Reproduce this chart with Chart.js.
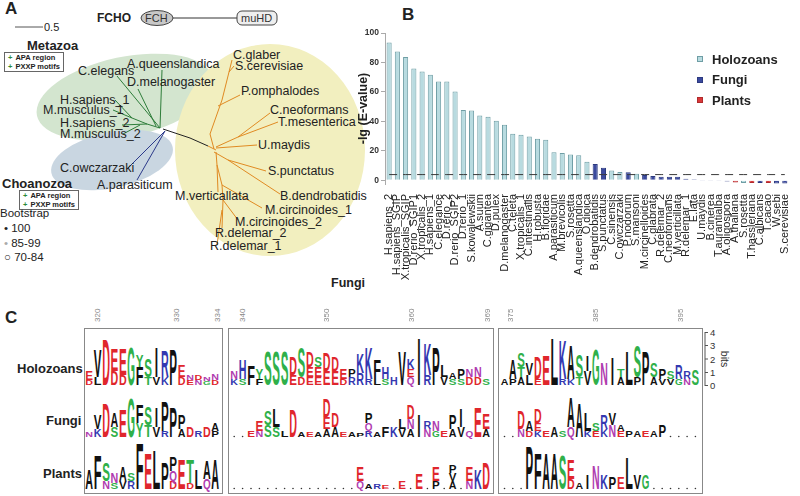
<!DOCTYPE html>
<html><head><meta charset="utf-8">
<script src="https://cdn.jsdelivr.net/npm/chart.js@4.4.0/dist/chart.umd.min.js"></script>
<style>
body{margin:0;width:800px;height:496px;background:#fff;font-family:"Liberation Sans",Arial,sans-serif;position:relative;overflow:hidden;color:#222}
.t{position:absolute;white-space:nowrap;font-size:12.5px;line-height:14px}
.b{font-weight:bold}
.letter{position:absolute;font-weight:bold;font-size:17px}
#bchart{position:absolute;left:330px;top:0}
#legend{position:absolute;left:697px;top:49px;font-weight:bold;font-size:13px}
#legend div{height:20.5px;display:flex;align-items:center}
#legend span.sw{display:inline-block;width:6px;height:6px;margin-right:9px;box-sizing:border-box;border:1px solid}
.box{position:absolute;border:1.5px solid #888;box-sizing:border-box}
.motif{position:absolute;border:1px solid #666;font-size:7.5px;font-weight:bold;line-height:9px;padding:0 3px;background:#fff}
.motif i{color:#2a8a3a;font-style:normal;margin-right:3px}
.pos{position:absolute;font-size:8px;color:#888;transform:rotate(-90deg);transform-origin:left top}
</style></head><body>

<svg width="800" height="496" style="position:absolute;left:0;top:0">
  <ellipse cx="125" cy="97" rx="90" ry="40" transform="rotate(-12 125 97)" fill="#d3e5cf"/>
  <ellipse cx="112" cy="160" rx="62" ry="28" transform="rotate(-12 112 160)" fill="#c9d6e1"/>
  <ellipse cx="270" cy="150" rx="95" ry="106" fill="#f2efbf"/>
  <line x1="15" y1="27" x2="43" y2="27" stroke="#555" stroke-width="1"/>
  <line x1="173" y1="18" x2="237" y2="18" stroke="#333" stroke-width="1"/>
  <ellipse cx="157" cy="18" rx="16" ry="7.5" fill="#c8c8c8" stroke="#444"/>
  <rect x="237" y="11" width="40" height="14" rx="5" fill="#eee" stroke="#444"/>
  <g fill="none" stroke-width="1">
    <g stroke="#2e7d3a">
      <polyline points="160,128 117,76"/>
      <polyline points="160,128 162,70"/>
      <polyline points="156,126 138,89"/>
      <polyline points="160,128 147,124 132,118 113,110"/>
      <polyline points="132,118 115,100"/>
      <polyline points="147,124 122,125"/>
      <polyline points="140,125 123,134"/>
    </g>
    <g stroke="#2c3a8a">
      <polyline points="165,131 128,168"/>
      <polyline points="165,131 137,180"/>
    </g>
    <polyline stroke="#222" points="163,129 190,138 208,146"/>
    <g stroke="#e08a22">
      <polyline points="208,146 216,150"/>
      <polyline points="214,149 210,134 222,100 232,60"/>
      <polyline points="229,72 234,66"/>
      <polyline points="218,106 240,95"/>
      <polyline points="216,147 238,137 270,113"/>
      <polyline points="238,137 278,122"/>
      <polyline points="216,148 257,145"/>
      <polyline points="214,152 228,160 266,171"/>
      <polyline points="228,160 280,194"/>
      <polyline points="216,152 217,165 218,192"/>
      <polyline points="217,165 222,185 262,208"/>
      <polyline points="222,185 223,200 238,220"/>
      <polyline points="223,200 222,228"/>
      <polyline points="222,210 217,245"/>
    </g>
  </g>
  <g stroke="#555" stroke-width="1">
    <line x1="705" y1="332" x2="705" y2="386"/>
    <line x1="705" y1="332.5" x2="708" y2="332.5"/>
    <line x1="705" y1="345.5" x2="708" y2="345.5"/>
    <line x1="705" y1="359" x2="708" y2="359"/>
    <line x1="705" y1="372.5" x2="708" y2="372.5"/>
    <line x1="705" y1="385.5" x2="708" y2="385.5"/>
  </g>
  <g id="logos"></g>
</svg>

<div class="letter" style="left:5px;top:-1px">A</div>
<div class="t b" style="left:97px;top:11px;font-size:12px">FCHO</div>
<div class="t" style="left:145px;top:11px;font-size:11px;color:#333">FCH</div>
<div class="t" style="left:241px;top:11px;font-size:11px;color:#333">muHD</div>
<div class="t" style="left:44px;top:20px;font-size:11px">0.5</div>
<div class="t b" style="left:27px;top:39px;font-size:13px">Metazoa</div>
<div class="motif" style="left:4px;top:52px"><div><i>+</i>APA region</div><div><i>+</i>PXXP motifs</div></div>
<div class="t b" style="left:2px;top:177px;font-size:13px">Choanozoa</div>
<div class="motif" style="left:19px;top:190px"><div><i>+</i>APA region</div><div><i>+</i>PXXP motifs</div></div>
<div class="t" style="left:0px;top:206px;font-size:11.5px">Bootstrap</div>
<div class="t" style="left:4px;top:221px;font-size:11.5px">&#8226; 100</div>
<div class="t" style="left:4px;top:236px;font-size:11.5px"><span style="color:#aaa">&#8226;</span> 85-99</div>
<div class="t" style="left:4px;top:250px;font-size:11.5px">&#9675; 70-84</div>
<div class="t b" style="left:331px;top:276px;font-size:12.5px">Fungi</div>

<div class="t" style="left:233px;top:48px">C.glaber</div>
<div class="t" style="left:235px;top:59px">S.cerevisiae</div>
<div class="t" style="left:127px;top:57px">A.queenslandica</div>
<div class="t" style="left:78px;top:64px">C.elegans</div>
<div class="t" style="left:127px;top:75px">D.melanogaster</div>
<div class="t" style="left:241px;top:84px">P.omphalodes</div>
<div class="t" style="left:60px;top:93px">H.sapiens_1</div>
<div class="t" style="left:43px;top:103px">M.musculus_1</div>
<div class="t" style="left:270px;top:103px">C.neoformans</div>
<div class="t" style="left:278px;top:115px">T.mesenterica</div>
<div class="t" style="left:60px;top:116px">H.sapiens_2</div>
<div class="t" style="left:60px;top:127px">M.musculus_2</div>
<div class="t" style="left:258px;top:138px">U.maydis</div>
<div class="t" style="left:60px;top:161px">C.owczarzaki</div>
<div class="t" style="left:268px;top:164px">S.punctatus</div>
<div class="t" style="left:97px;top:178px">A.parasiticum</div>
<div class="t" style="left:175px;top:189px">M.verticallata</div>
<div class="t" style="left:280px;top:189px">B.dendrobatidis</div>
<div class="t" style="left:265px;top:203px">M.circinoides_1</div>
<div class="t" style="left:235px;top:215px">M.circinoides_2</div>
<div class="t" style="left:215px;top:226px">R.delemar_2</div>
<div class="t" style="left:210px;top:239px">R.delemar_1</div>

<div class="letter" style="left:402px;top:5px">B</div>
<canvas id="bchart" width="470" height="310"></canvas>
<div id="legend"></div>

<div class="letter" style="left:5px;top:308px">C</div>
<div class="box" style="left:84px;top:328px;width:139px;height:166px"></div>
<div class="box" style="left:228px;top:328px;width:266px;height:166px"></div>
<div class="box" style="left:498px;top:328px;width:205px;height:166px"></div>
<div class="t b" style="left:17px;top:362px;font-size:13px">Holozoans</div>
<div class="t b" style="left:46px;top:414px;font-size:13px">Fungi</div>
<div class="t b" style="left:43px;top:467px;font-size:13px">Plants</div>
<div class="pos" style="left:93px;top:322px">320</div>
<div class="pos" style="left:172px;top:322px">330</div>
<div class="pos" style="left:213px;top:322px">334</div>
<div class="pos" style="left:238px;top:322px">340</div>
<div class="pos" style="left:322px;top:322px">350</div>
<div class="pos" style="left:407px;top:322px">360</div>
<div class="pos" style="left:483px;top:322px">369</div>
<div class="pos" style="left:506px;top:322px">375</div>
<div class="pos" style="left:591px;top:322px">385</div>
<div class="pos" style="left:676px;top:322px">395</div>
<div class="t" style="left:710px;top:326px;font-size:9.5px;line-height:13.3px;color:#333">4<br>3<br>2<br>1<br>0</div>
<div class="t" style="left:717px;top:352px;font-size:10.5px;color:#333;transform:rotate(90deg)">bits</div>

<script>
// ---------- Panel B data ----------
const species = ["H.sapiens_2","H.sapiens_SGIP","X.tropicalis_SGIP","D.rerio_SGIP1","X.tropicalis_2","H.sapiens_1","C.elegance","D.rerio_2","D.rerio_SGIP2","D.rerio_1","S.kowalewskii","A.suum","C.gigantea","D.pulex","D.melanogaster","C.teleta","X.tropicalis_1","C.intestinalis","H.robusta","B.floridae","A.parasiticum","M.brevicolis","S.rosetta","A.queenslandica","O.dioica","B.dendrobatidis","S.punctatus","C.sinensis","C.owczarzaki","P.nodorum","S.mansoni","M.circinelloides","C.glabrata","R.delemar_2","C.neoformans","M.verticillata","R.delemar_1","E.lata","U.maydis","B.cinerea","T.aurantialba","A.oligospora","A.thaliana","S.rosetta","T.hassleriana","C.albicans","T.cacao","W.sebi","S.cerevisiae"];
const lgEvalue = [93.5,87.4,83.7,75.8,73.8,71.7,67.1,67.1,60.3,47.6,47.4,43.9,43.1,40.4,37.6,31.5,30.8,29.7,28.1,27.4,19.0,18.5,17.4,16.9,12.6,11.0,8.5,6.5,5.6,5.3,4.4,3.5,2.8,2.4,2.4,2.3,1.0,0.6,-0.2,-0.3,-0.6,-0.9,-1.5,-2.0,-2.0,-2.0,-2.0,-2.2,-2.3];
const group = ["Holozoans","Holozoans","Holozoans","Holozoans","Holozoans","Holozoans","Holozoans","Holozoans","Holozoans","Holozoans","Holozoans","Holozoans","Holozoans","Holozoans","Holozoans","Holozoans","Holozoans","Holozoans","Holozoans","Holozoans","Holozoans","Holozoans","Holozoans","Holozoans","Holozoans","Fungi","Fungi","Holozoans","Holozoans","Fungi","Holozoans","Fungi","Fungi","Fungi","Fungi","Fungi","Fungi","Fungi","Fungi","Fungi","Fungi","Fungi","Plants","Holozoans","Plants","Fungi","Plants","Fungi","Fungi"];
const groupNames = ["Holozoans","Fungi","Plants"];
const groupFill = ["#b8dbe0","#3b4a9e","#d9383a"];
const groupBorder = ["#6f9ea5","#2d3a80","#b02a2c"];
const threshold = 3.8;
const yTicks = [0,20,40,60,80,100];

const datasets = groupNames.map((g,gi)=>({
  label:g,
  data: lgEvalue.map((v,i)=> group[i]===g ? v : null),
  backgroundColor: groupFill[gi],
  borderColor: groupBorder[gi],
  borderWidth: 1,
  barPercentage: 0.62,
  categoryPercentage: 1,
  skipNull: true,
  order: 2
}));
datasets.push({
  type:'line', label:'threshold',
  data: species.map(()=>threshold),
  borderColor:'#3a3a3a', borderWidth:1, borderDash:[8,6],
  pointRadius:0, fill:false, order:1
});

const FONT = '"Liberation Sans", Arial, sans-serif';
new Chart(document.getElementById('bchart'), {
  type:'bar',
  data:{labels:species, datasets},
  options:{
    responsive:false, animation:false,
    layout:{padding:{top:33,left:0,right:0,bottom:0}},
    plugins:{legend:{display:false}, tooltip:{enabled:false}},
    scales:{
      x:{
        grid:{display:false}, border:{display:false},
        ticks:{autoSkip:false,maxRotation:90,minRotation:90,padding:2,color:'#222',font:{family:FONT,size:11}},
        afterFit(s){ s.height = 126; }
      },
      y:{
        min:-2.6, max:100,
        afterBuildTicks(s){ s.ticks = yTicks.map(v=>({value:v})); },
        grid:{drawOnChartArea:false, tickLength:4, color:'#aaa'},
        border:{color:'#aaa'},
        ticks:{padding:2,color:'#333',font:{family:FONT,size:8.5,weight:'bold'}},
        title:{display:true,text:'-lg (E-value)',color:'#222',padding:{top:26,bottom:0},
               font:{family:FONT,size:12.5,weight:'bold'}},
        afterFit(s){ s.width = 55; }
      }
    }
  }
});

const leg = document.getElementById('legend');
groupNames.forEach((g,gi)=>{
  const d = document.createElement('div');
  d.innerHTML = '<span class="sw" style="background:'+groupFill[gi]+';border-color:'+groupBorder[gi]+'"></span>'+g;
  leg.appendChild(d);
});

// ---------- Panel C: sequence logos (column tokens: letters + height in px, top to bottom) ----------
const logoBlocks = [
  {x0:89.2, w:8.4},
  {x0:234.2, w:8.4},
  {x0:504.5, w:8.3}
];
const rowBase = {Holozoans:385, Fungi:437, Plants:489};
const logoHolozoans = [
  "E9D5 V28L8 D46 E22D14 E26D10 G38 Y12F18 S18T8 I30V8 R26K8 P36 E12D8 N5E5 D5N5 N4G4 N6D5",
  "N8K6 H20S6 F20 Y10F6 S34 S34 S34 D18E10 S30D8 D16E10E8 S10E10E8 D18E14 D14E14 E10D6 P8R8 K20R12 K32R6 F20L6 H12S6 H8 V34 K10E8Q8 I48 K32R10 P38 L12V8 A6S6 P10S6 N8D8 N10D8 S6",
  "A6 A20P6 S14T10A8 V12L10 D22E6 E30 L48 K40R6 A34K6 S22T8 I16V14 G36 N22 I28 T8A8 L34 S32P8 P34 S14A8 P10V6 S8V6 R14G6 R8N6 S16"
];
const logoFungi = [
  "N5 V14K8 D34 A14S10 E28 G40 F18Y14 S18T12 I20V10 P30R6 P30 P14A8 D10 R6 D10 A8P6",
  ". . E6 E10N6 S14S12 L18S10 L6 D28 A5 E5 A5 D18E12A8 D14A10 E5 A5 P4 P10Q8R6 A5 F10 K10 L10V8 D14N10A8 I22 R8N8 N10G6 E6 P14A8 I18V10 Q6 E30 E16A8",
  ". . D18N8 A10D6 D14E8K6 E6 A10 S6 A30Q10 A34 L18K6 S8E6 R14K8 V12N12 A6E6 P6 A6 E6 A6 P12 . . . ."
];
const logoPlants = [
  "A20 F34 S18N8 N10S6 A14V8 S8R8 F46 E36 L40 P26 P14Q10D8 E30 T24D6 L20 A18Q10 A30",
  ". . . . . . . . . . . . . . . E14Q8 A5 R5 E4 . E8 . E16 . E14P8 . P8V8A8 . E14N8 K20 D26",
  ". . . P44 F36 A36 A36 S34 E20D10 A6 I14 N24 K14 P12 E12 L32 V14 G14 . . . . . ."
];
const aaColor = c => "DE".includes(c) ? "#e0262c" : "KRH".includes(c) ? "#3438b0" :
                     "STGYC".includes(c) ? "#2fb04a" : "NQ".includes(c) ? "#b03cb0" : "#111";
const NS = "http://www.w3.org/2000/svg";
const g = document.getElementById('logos');
function drawRow(rows, base){
  rows.forEach((str, bi)=>{
    const blk = logoBlocks[bi];
    str.split(" ").forEach((tok, i)=>{
      const cx = blk.x0 + i*blk.w;
      if(tok === "."){
        const c = document.createElementNS(NS,'circle');
        c.setAttribute('cx',cx); c.setAttribute('cy',base-0.5); c.setAttribute('r',0.8); c.setAttribute('fill','#333');
        g.appendChild(c); return;
      }
      const parts = tok.match(/[A-Z]\d+/g) || [];
      let y = base;
      for(let k=parts.length-1;k>=0;k--){
        const L = parts[k][0], h = +parts[k].slice(1);
        const S = 12, cap = 0.716*S;
        const t = document.createElementNS(NS,'text');
        t.textContent = L;
        t.setAttribute('font-family', FONT);
        t.setAttribute('font-weight','bold');
        t.setAttribute('font-size', S);
        t.setAttribute('text-anchor','middle');
        t.setAttribute('fill', aaColor(L));
        if(L !== "I"){ t.setAttribute('textLength', blk.w*0.92); t.setAttribute('lengthAdjust','spacingAndGlyphs'); }
        t.setAttribute('transform', 'translate('+cx+','+y+') scale(1,'+(h/cap)+')');
        g.appendChild(t);
        y -= h;
      }
    });
  });
}
drawRow(logoHolozoans, rowBase.Holozoans);
drawRow(logoFungi, rowBase.Fungi);
drawRow(logoPlants, rowBase.Plants);
</script>
</body></html>
